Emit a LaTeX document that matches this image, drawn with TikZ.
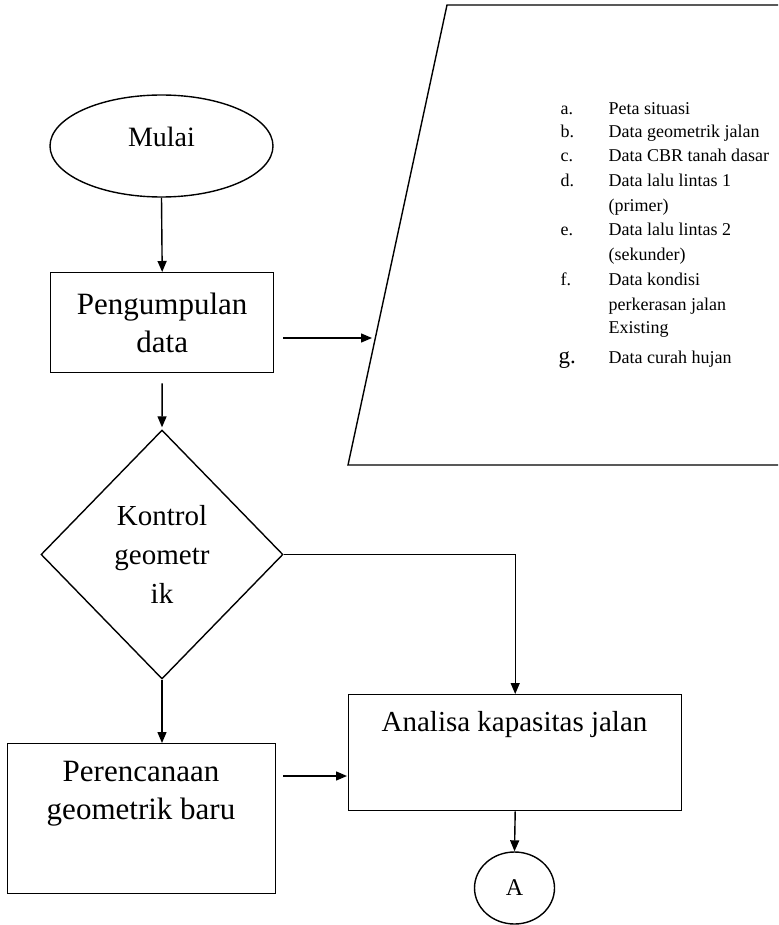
\documentclass[tikz,border=0pt]{standalone}
\usepackage{fontspec}
\setmainfont{Liberation Serif}
\usetikzlibrary{arrows.meta,shapes.geometric,calc}
\begin{document}
\begin{tikzpicture}[x=1pt,y=-1pt,
  line width=1.4pt,
  arr/.style={-{Triangle[length=11pt,width=9pt]}},
  box/.style={draw, rectangle, inner sep=0pt, anchor=north west},
  big/.style={font=\fontsize{28}{38}\selectfont, align=center, inner sep=0pt},
  item/.style={font=\fontsize{18}{24}\selectfont, anchor=base west, inner sep=0pt}]
\clip (0,0) rectangle (778,925);
\fill[white] (0,0) rectangle (778,925);
% start
\node[draw, ellipse, minimum width=223pt, minimum height=102pt, inner sep=0pt] (mulai) at (161.5,146) {};
\node[big] (mulaitxt) at (161.5,137) {Mulai};
% data collection
\node[box, big, font=\fontsize{31}{38}\selectfont, minimum width=223pt, minimum height=100pt] (kumpul) at (50,272) {Pengumpulan\\data};
% decision
\node[draw, diamond, minimum width=242pt, minimum height=249pt, inner sep=0pt, big, font=\fontsize{29}{39}\selectfont] (kontrol) at (162,554.5) {Kontrol\\geometr\\ik};
% new geometric plan
\node[box, minimum width=268pt, minimum height=150pt] (perenc) at (7,743) {};
\node[big, font=\fontsize{31}{38}\selectfont] (perenctxt) at (141,794) {Perencanaan\\geometrik baru};
% capacity analysis
\node[box, minimum width=333pt, minimum height=116pt] (analisa) at (348,694) {};
\node[big, font=\fontsize{29}{38}\selectfont] (analisatxt) at (514.5,725) {Analisa kapasitas jalan};
% connector A
\node[draw, ellipse, minimum width=80pt, minimum height=72pt, inner sep=0pt, font=\fontsize{24}{24}\selectfont] (A) at (514.5,888) {A};
% data parallelogram
\draw (800,5) -- (447,5) -- (348,465) -- (800,465);
\coordinate (dataedge) at (372,338);
% list
\node[item] (la) at (560,115) {a.};  \node[item] (ta) at (608,115) {Peta situasi};
\node[item] (lb) at (560,138) {b.};  \node[item] (tb) at (608,138) {Data geometrik jalan};
\node[item] (lc) at (560,162) {c.};  \node[item] (tc) at (608,162) {Data CBR tanah dasar};
\node[item] (ld) at (560,187) {d.};  \node[item] (td) at (608,187) {Data lalu lintas 1};
\node[item] (td2) at (608,212) {(primer)};
\node[item] (le) at (560,235) {e.};  \node[item] (te) at (608,235) {Data lalu lintas 2};
\node[item] (te2) at (608,260) {(sekunder)};
\node[item] (lf) at (560,285) {f.};  \node[item] (tf) at (608,285) {Data kondisi};
\node[item] (tf2) at (608,310) {perkerasan jalan};
\node[item] (tf3) at (608,333) {Existing};
\node[item, font=\fontsize{23}{24}\selectfont] (lg) at (558,363) {g.};  \node[item] (tg) at (608,363) {Data curah hujan};
% connectors
\draw[arr] (mulai.south) -- (kumpul.north);
\draw[arr, shorten <=10pt, shorten >=2pt] (kumpul.south) -- (kontrol.north);
\draw[arr] ([xshift=9pt]kumpul.east |- dataedge) -- (dataedge);
\draw[arr] (kontrol.south) -- (kontrol.south |- perenc.north);
\draw[arr] (kontrol.east) -| (analisa.north);
\coordinate (pa) at (0,776);
\draw[arr] ([xshift=7pt]perenc.east |- pa) -- ([xshift=-1pt]analisa.west |- pa);
\draw[arr] (analisa.south) -- (A.north);
\end{tikzpicture}
\end{document}
